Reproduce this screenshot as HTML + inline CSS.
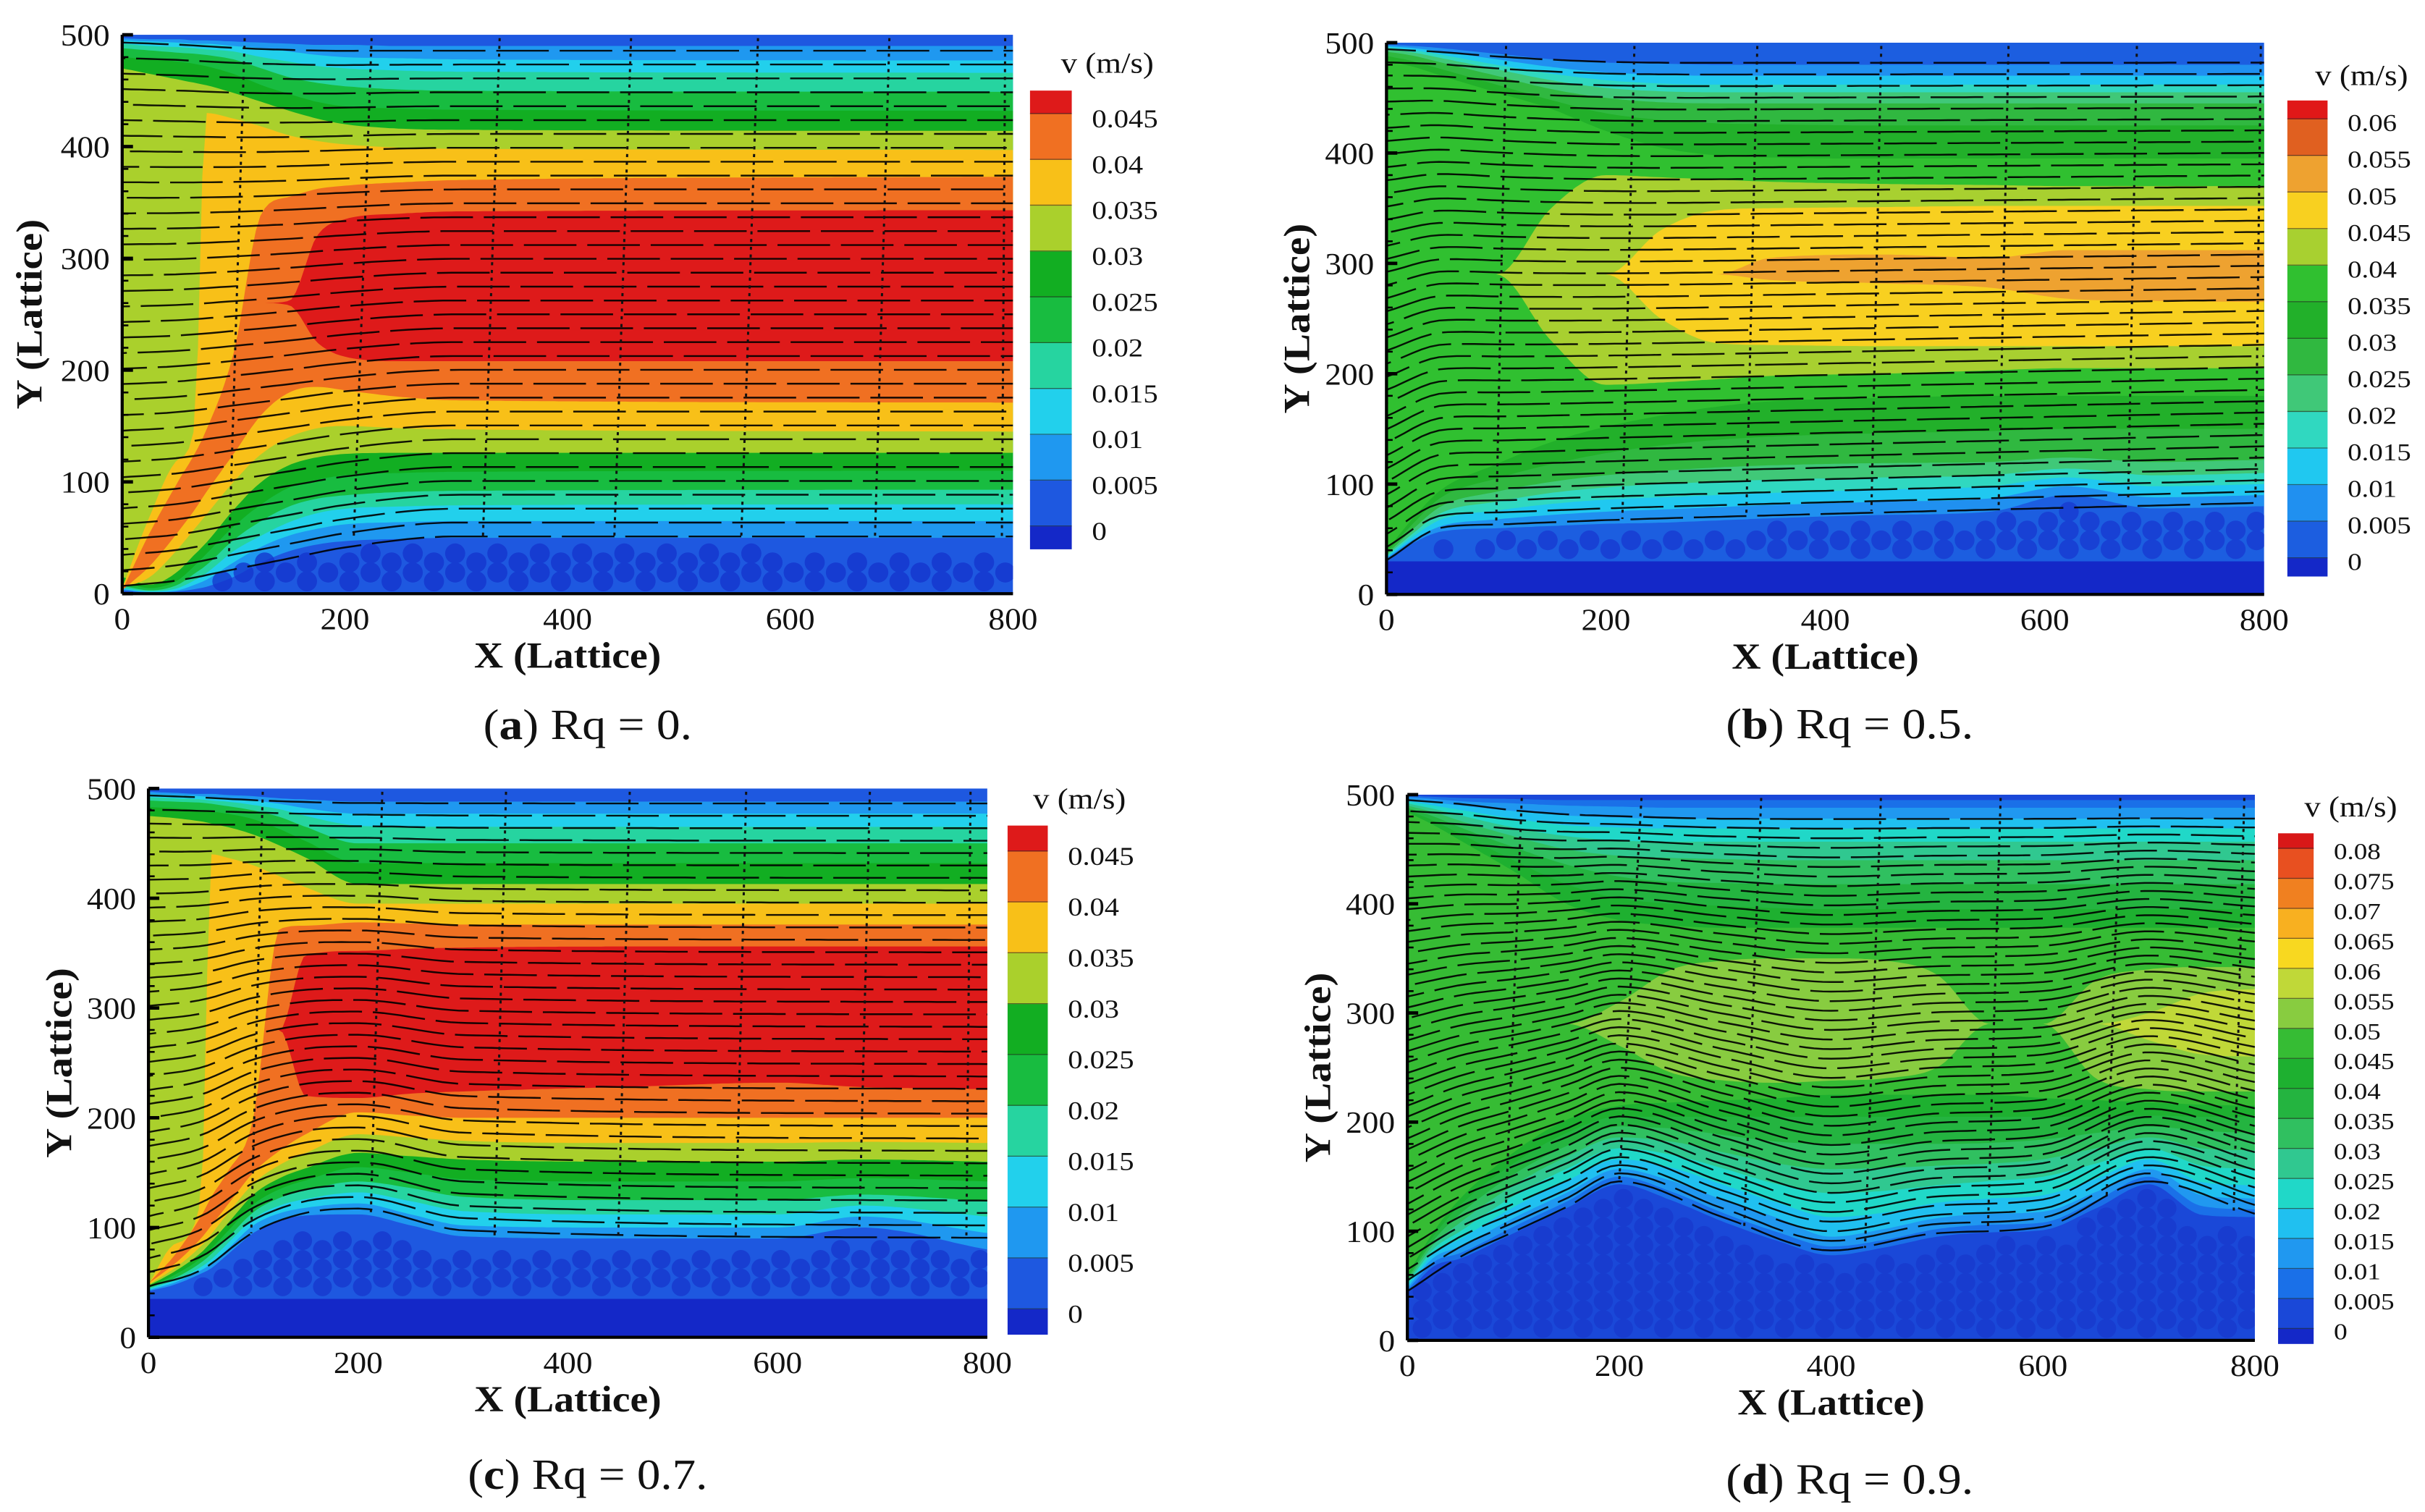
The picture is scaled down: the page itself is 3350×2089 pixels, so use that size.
<!DOCTYPE html>
<html><head><meta charset="utf-8">
<style>
html,body{margin:0;padding:0;background:#fff;}
svg{display:block;font-family:"Liberation Serif","DejaVu Serif",serif;}
text{font-family:"Liberation Serif","DejaVu Serif",serif;fill:#111;}
</style></head>
<body>
<svg id="fig" xmlns="http://www.w3.org/2000/svg" width="3350" height="2089" viewBox="0 0 1568 978" preserveAspectRatio="none" font-family="'Liberation Serif', 'DejaVu Serif', serif"></svg>
<script>
// ---------- shared axis data ----------
const yTickVals = [0,100,200,300,400,500];
const yTickLabels = ['0','100','200','300','400','500'];
const xTickVals = [0,200,400,600,800];
const xTickLabels = ['0','200','400','600','800'];
const FONT = "'Liberation Serif', 'DejaVu Serif', serif";

// ---------- colour maps ----------
const cmapA = ['#1428c8','#1e58e0','#1f98f0','#22d0ec','#26d4a0','#18bc40','#12ae22','#aad02c','#f8c018','#f07022','#de1a1a'];
const cmapB = ['#1428c8','#1c5ee0','#2090f0','#20c8f0','#30d8c0','#40c878','#30b840','#22b02a','#30c030','#a8d030','#f8d020','#eea230','#e06020','#e01818'];
const cmapD = ['#1428c8','#1a48d8','#1a70e8','#2098f0','#20c0f0','#20d8c8','#30c890','#30c060','#24b440','#1eb030','#36bc34','#88cc40','#c0d838','#f8d820','#f8b020','#f08020','#e85020','#d81818'];

const cbLabelsA = ['0','0.005','0.01','0.015','0.02','0.025','0.03','0.035','0.04','0.045'];
const cbLabelsB = ['0','0.005','0.01','0.015','0.02','0.025','0.03','0.035','0.04','0.045','0.05','0.055','0.06'];
const cbLabelsC = ['0','0.005','0.01','0.015','0.02','0.025','0.03','0.035','0.04','0.045'];
const cbLabelsD = ['0','0.005','0.01','0.015','0.02','0.025','0.03','0.035','0.04','0.045','0.05','0.055','0.06','0.065','0.07','0.075','0.08'];

// ---------- panel (a) Rq = 0 ----------
const xsA = [0,25,50,65,75,100,125,150,175,200,250,300,800];
const bandLoA = [
 [3,1,2,4,6,15,28,38,44,47,49,50,50],
 [4,1.5,3,8,12,28,42,52,58,62,64,65,65],
 [5,2,5,12,18,38,52,64,72,76,78,79,80],
 [7,3,8,18,25,48,65,78,85,88,91,92,93],
 [10,5,12,25,35,60,80,95,102,106,108,109,110],
 [15,8,20,35,45,75,100,115,122,125,126,126,126],
 [5,15,40,58,70,100,125,140,148,150,148,147,145],
 [3,25,55,75,90,125,160,180,185,182,176,173,171],
 [260,260,260,260,260,260,260,258,225,212,208,208,208]
];
const bandHiA = [
 [497,496,496,495,495,494,493,492,491,491,490,490,490],
 [495,494,493,492,492,490,488,485,482,480,479,478,477],
 [492,490,489,488,487,485,480,476,472,470,468,467,466],
 [488,486,484,483,482,478,470,462,457,454,451,450,449],
 [480,478,476,474,472,465,455,447,440,436,434,433,432],
 [470,465,460,457,455,448,440,432,425,420,416,415,414],
 [5,70,120,150,430,425,418,410,405,402,399,398,397],
 [3,55,100,125,145,215,340,355,362,365,368,370,373],
 [260,260,260,260,260,260,260,262,320,335,340,342,343]
];
const bedXsA = [0,50,100,150,200,400,600,700,800];
const bedA = [4,16,33,42,45,45,45,42,42];
const flowXsA = [0,50,100,150,200,300,800];
const flowFloorA = [0,5,15,25,35,45,45];
const flowCeilA = [500,498,495,493,492,492,492];
const colTopA = [110,224,339,457,571,689,793];
const colBotA = [96,208,324,442,556,676,790];

// ---------- panel (b) Rq = 0.5 ----------
const xsB = [0,25,50,100,150,200,250,300,350,450,550,620,700,800];
const bandLoB = [
 [32,47,57,60,62,64,65,67,69,72,75,90,78,80],
 [33,50,62,68,72,75,77,79,81,84,87,98,88,90],
 [34,53,68,76,82,86,88,90,92,95,98,106,98,100],
 [35,56,74,84,92,97,100,102,104,106,108,114,108,110],
 [36,60,80,93,102,108,112,115,117,119,120,124,120,122],
 [38,65,88,105,118,128,135,140,143,146,148,150,150,150],
 [40,70,95,118,138,152,162,170,175,178,180,180,180,180],
 [290,290,290,290,230,190,192,195,198,200,203,205,205,205],
 [290,290,290,290,290,290,250,228,226,225,225,225,225,225],
 [290,290,290,290,290,290,290,290,285,282,278,268,266,265]
];
const bandHiB = [
 [498,497,495,490,485,482,481,480,480,480,480,480,480,480],
 [497,495,492,485,478,473,471,470,470,470,470,470,470,470],
 [496,493,489,480,472,466,463,462,462,462,462,462,462,462],
 [494,491,486,476,466,459,456,455,455,455,455,455,455,455],
 [492,488,482,470,458,450,446,445,445,445,445,445,445,445],
 [488,483,476,462,448,436,430,427,426,425,425,425,425,425],
 [484,478,470,455,440,420,405,398,396,395,395,395,395,395],
 [290,290,290,290,350,380,378,376,374,372,371,370,370,370],
 [290,290,290,290,290,290,330,348,350,351,352,352,352,352],
 [290,290,290,290,290,290,290,290,305,308,305,312,312,312]
];
const bedXsB = xsB;
const bedB = [30,45,55,58,60,62,63,65,67,70,73,88,76,78];
const flowXsB = [0,50,100,150,200,300,800];
const flowFloorB = [25,55,58,60,62,65,78];
const flowCeilB = [500,497,493,490,488,487,487];
const colTopB = [109,226,338,451,567,684,797];
const colBotB = [100,215,328,442,558,676,792];

// ---------- panel (c) Rq = 0.7 ----------
const xsC = [0,25,50,60,75,100,125,150,200,250,300,450,600,680,800];
const bandLoC = [
 [42,48,58,63,75,95,106,111,112,102,92,90,90,100,80],
 [43,50,61,67,80,102,113,118,122,112,102,100,100,110,95],
 [44,52,64,71,85,108,120,126,132,124,115,112,112,120,110],
 [45,54,68,76,90,114,127,134,142,136,128,125,125,130,124],
 [46,57,72,81,96,121,135,143,155,150,144,142,142,145,142],
 [47,60,77,87,103,130,145,154,168,165,162,160,160,162,160],
 [48,63,83,94,112,140,157,168,185,182,179,177,177,178,177],
 [49,67,90,102,120,150,170,185,205,202,200,200,200,200,200],
 [280,280,280,280,280,280,280,220,218,222,224,228,232,228,226]
];
const bandHiC = [
 [497,496,495,495,494,493,491,490,488,488,488,488,488,488,488],
 [495,494,493,492,491,489,486,482,477,477,477,477,477,477,477],
 [492,491,490,489,488,485,481,475,466,465,465,465,465,465,465],
 [489,488,487,486,484,480,474,465,450,450,450,450,450,450,450],
 [483,482,480,479,477,472,463,452,432,432,432,432,432,432,432],
 [475,473,470,468,465,458,448,437,413,413,413,413,413,413,413],
 [48,85,125,440,437,430,420,410,395,395,395,395,395,395,395],
 [49,75,110,128,150,200,372,375,378,377,376,376,376,376,376],
 [280,280,280,280,280,280,280,348,352,354,355,356,356,356,356]
];
const bedXsC = xsC;
const bedC = [40,45,55,60,70,90,100,105,105,95,85,85,85,95,80];
const flowXsC = [0,50,100,150,200,300,800];
const flowFloorC = [40,55,90,108,112,92,85];
const flowCeilC = [500,498,495,493,492,492,492];
const colTopC = [109,223,341,459,570,688,784];
const colBotC = [98,212,330,448,560,678,780];

// ---------- panel (d) Rq = 0.9 ----------
const xsD = [0,25,50,100,150,200,250,300,350,400,450,500,550,600,650,700,750,800];
const bandLoD = [
 [43,68,75,98,121,143,128,108,91,78,85,95,99,101,121,143,115,113],
 [46,72,80,104,127,150,136,116,99,86,92,102,106,108,128,150,123,120],
 [48,76,86,112,135,157,146,128,112,95,102,112,116,118,136,157,133,130],
 [50,80,93,122,146,166,158,142,126,113,117,126,130,133,148,166,145,142],
 [52,84,100,132,157,176,170,157,143,135,137,142,146,150,162,176,160,157],
 [54,88,108,142,168,186,182,172,162,157,158,160,162,166,176,186,176,174],
 [56,92,116,152,178,196,194,188,182,180,180,180,181,184,190,196,192,190],
 [58,96,124,162,190,205,205,205,205,205,205,205,205,205,205,206,205,205],
 [60,100,130,172,202,215,218,220,222,225,225,225,225,222,220,218,216,215],
 [290,290,290,290,290,270,245,238,236,238,240,250,290,290,240,230,228,228],
 [290,290,290,290,290,290,290,290,290,290,290,290,290,290,290,275,262,260]
];
const bandHiD = [
 [499,498,497,496,495,495,495,495,495,495,495,495,495,495,495,495,495,495],
 [498,496,494,492,490,489,488,488,488,488,488,488,488,488,488,488,488,488],
 [496,493,490,485,481,479,478,478,478,478,478,478,478,478,478,478,478,478],
 [494,490,486,478,472,470,469,469,469,469,469,469,469,469,469,469,469,469],
 [492,487,481,470,462,458,457,457,457,457,457,457,457,457,457,457,457,457],
 [490,484,476,462,450,444,442,441,440,440,440,440,440,440,440,440,440,440],
 [488,480,470,452,436,425,420,419,418,418,418,418,418,418,418,418,418,418],
 [486,476,464,440,418,405,400,398,396,395,395,395,395,395,395,395,395,395],
 [484,472,458,430,400,385,380,378,378,378,378,378,378,378,378,378,378,378],
 [290,290,290,290,290,310,340,348,350,350,348,335,290,290,330,340,342,342],
 [290,290,290,290,290,290,290,290,290,290,290,290,290,290,290,300,318,322]
];
const bedXsD = xsD;
const bedD = [40,65,72,95,118,140,125,105,88,75,82,92,96,98,118,140,112,110];
const flowXsD = [0,50,100,150,200,300,400,500,600,700,800];
const flowFloorD = [40,72,95,118,142,108,78,94,100,142,112];
const flowCeilD = [500,496,490,486,484,482,482,482,482,482,482];
const colTopD = [108,221,334,447,560,673,790];
const colBotD = [92,200,318,432,548,660,780];

// ---------- helpers ----------
const NS = 'http://www.w3.org/2000/svg';
const svg = document.getElementById('fig');
function mk(tag, parent){ const e = document.createElementNS(NS, tag); parent.appendChild(e); return e; }
function mono(xs, ys){
  const n = xs.length, d = [], m = [];
  for(let i=0;i<n-1;i++) d[i]=(ys[i+1]-ys[i])/(xs[i+1]-xs[i]);
  m[0]=d[0]; m[n-1]=d[n-2];
  for(let i=1;i<n-1;i++) m[i] = (d[i-1]*d[i]<=0)?0:(d[i-1]+d[i])/2;
  for(let i=0;i<n-1;i++){
    if(d[i]===0){m[i]=0;m[i+1]=0;continue;}
    const a=m[i]/d[i], b=m[i+1]/d[i], s=a*a+b*b;
    if(s>9){const t=3/Math.sqrt(s); m[i]=t*a*d[i]; m[i+1]=t*b*d[i];}
  }
  return function(x){
    if(x<=xs[0]) return ys[0];
    if(x>=xs[n-1]) return ys[n-1];
    let i=0; while(x>xs[i+1]) i++;
    const h=xs[i+1]-xs[i], t=(x-xs[i])/h, t2=t*t, t3=t2*t;
    return (2*t3-3*t2+1)*ys[i]+(t3-2*t2+t)*h*m[i]+(-2*t3+3*t2)*ys[i+1]+(t3-t2)*h*m[i+1];
  };
}
function txt(parent, s, x, y, size, anchor, len, bold){
  const t = mk('text', parent);
  t.setAttribute('x', x); t.setAttribute('y', y);
  t.setAttribute('font-size', size);
  t.setAttribute('font-family', FONT);
  t.setAttribute('text-anchor', anchor);
  if(len){ t.setAttribute('textLength', len); t.setAttribute('lengthAdjust','spacingAndGlyphs'); }
  if(bold) t.setAttribute('font-weight','bold');
  t.textContent = s;
  return t;
}
function strW(s, dw){ let w=0; for(const c of s) w += (c==='.')?dw*0.45:dw; return w; }

function drawPanel(id, L, D){
  const g = mk('g', svg);
  
  
  const X = v => L.x0 + v/800*(L.x1-L.x0);
  const Y = v => L.yB - v/500*(L.yB-L.yT);
  const defs = mk('defs', g);
  const cp = mk('clipPath', defs); cp.setAttribute('id','clip-'+id);
  const cr = mk('rect', cp);
  cr.setAttribute('x',L.x0); cr.setAttribute('y',L.yT); cr.setAttribute('width',L.x1-L.x0); cr.setAttribute('height',L.yB-L.yT);
  const plot = mk('g', g);
  plot.setAttribute('clip-path','url(#clip-'+id+')');
  
  
  const bg = mk('rect', plot);
  
  
  bg.setAttribute('x',L.x0); bg.setAttribute('y',L.yT); bg.setAttribute('width',L.x1-L.x0); bg.setAttribute('height',L.yB-L.yT);
  bg.setAttribute('fill', D.cmap[1]);
  D.lo.forEach((loArr, k) => {
    const fl = mono(D.xs, loArr), fh = mono(D.xs, D.hi[k]);
    let pts = [];
    for(let x=0;x<=800;x+=4) pts.push(X(x).toFixed(1)+','+Y(fl(x)).toFixed(1));
    for(let x=800;x>=0;x-=4) pts.push(X(x).toFixed(1)+','+Y(fh(x)).toFixed(1));
    const p = mk('polygon', plot);
    
    
    p.setAttribute('points', pts.join(' '));
    p.setAttribute('fill', D.cmap[k+2]);
  });
  const fb = mono(D.bedXs, D.bed);
  if(D.baseTop>0){
    const r = mk('rect', plot);
    
    
    r.setAttribute('x',L.x0); r.setAttribute('y',Y(D.baseTop)); r.setAttribute('width',L.x1-L.x0); r.setAttribute('height',L.yB-Y(D.baseTop));
    r.setAttribute('fill', D.cmap[0]);
  }
  const pg = mk('g', plot);
  
  
  pg.setAttribute('fill', D.partColor); pg.setAttribute('opacity','0.75');
  const rr = (L.x1-L.x0)/800*9;
  let col=0;
  for(let x=14;x<800;x+=19,col++){
    const top = fb(x);
    for(let row=0;;row++){
      const y = D.baseTop + 11 + row*17 + (col%2)*8;
      if(y > top-9) break;
      const c = mk('circle', pg);
      c.setAttribute('cx', X(x).toFixed(1)); c.setAttribute('cy', Y(y).toFixed(1)); c.setAttribute('r', rr.toFixed(1));
    }
  }
  const ff = mono(D.fxs, D.floor), fc = mono(D.fxs, D.ceil);
  const sg = mk('g', plot);
  
  
  sg.setAttribute('fill','none'); sg.setAttribute('stroke','#000'); sg.setAttribute('stroke-width','1.15');
  sg.setAttribute('stroke-dasharray','34 7'); sg.setAttribute('opacity','0.9');
  for(let i=0;i<D.nStream;i++){
    const f=(i+0.5)/D.nStream;
    let dd='';
    for(let x=0;x<=800;x+=8){
      const y = ff(x)+f*(fc(x)-ff(x));
      dd += (x===0?'M':'L')+X(x).toFixed(1)+','+Y(y).toFixed(1);
    }
    const p = mk('path', sg);
    
    
    p.setAttribute('d', dd);
    p.setAttribute('stroke-dashoffset', (i*13)%41);
  }
  const vg = mk('g', plot);
  
  
  vg.setAttribute('stroke','#111'); vg.setAttribute('stroke-width','1.4'); vg.setAttribute('stroke-dasharray','2 3'); vg.setAttribute('fill','none');
  D.colTop.forEach((xt,i)=>{
    const xb = D.colBot[i];
    const yb = fb(xb)+6;
    const ln = mk('line', vg);
    
    
    ln.setAttribute('x1', X(xt)); ln.setAttribute('y1', Y(497));
    ln.setAttribute('x2', X(xb)); ln.setAttribute('y2', Y(yb));
  });
  const ax = mk('g', g);
  
  
  const la = mk('line', ax);
  la.setAttribute('x1',L.x0); la.setAttribute('y1',L.yT); la.setAttribute('x2',L.x0); la.setAttribute('y2',L.yB);
  la.setAttribute('stroke','#000'); la.setAttribute('stroke-width','2');
  const ba = mk('line', ax);
  ba.setAttribute('x1',L.x0); ba.setAttribute('y1',L.yB); ba.setAttribute('x2',L.x1); ba.setAttribute('y2',L.yB);
  ba.setAttribute('stroke','#000'); ba.setAttribute('stroke-width','2');
  for(let v=0; v<=500; v+=20){
    const t = mk('line', ax);
    const major = v%100===0;
    t.setAttribute('x1',L.x0); t.setAttribute('x2',L.x0+(major?7:4));
    t.setAttribute('y1',Y(v)); t.setAttribute('y2',Y(v));
    t.setAttribute('stroke','#000'); t.setAttribute('stroke-width', major?2.2:1.2);
  }
  yTickVals.forEach((v,i)=>{
    const t = txt(ax, yTickLabels[i], L.x0-8, Y(v)+7, 20, 'end', strW(yTickLabels[i],10.6));
    
    
  });
  xTickVals.forEach((v,i)=>{
    const t = txt(ax, xTickLabels[i], X(v), L.yB+23, 20, 'middle', strW(xTickLabels[i],10.6));
    
    
  });
  const xt = txt(ax, 'X (Lattice)', (L.x0+L.x1)/2, L.yB+48, 24, 'middle', 121, true);
  
  
  const yc = (L.yT+L.yB)/2;
  const yt = txt(ax, 'Y (Lattice)', L.x0-L.ytOff, yc, 24, 'middle', 123, true);
  yt.setAttribute('transform','rotate(-90 '+(L.x0-L.ytOff)+' '+yc+')');
  
  
  const cb = mk('g', g);
  
  
  const N = D.cbLabels.length, ch = (L.cbB-L.cbT)/N;
  for(let j=0;j<=N;j++){
    let y0, h;
    if(j===0){ y0 = L.cbB-ch/2; h = ch/2; }
    else if(j===N){ y0 = L.cbT; h = ch/2; }
    else { y0 = L.cbB-ch/2-j*ch; h = ch; }
    const r = mk('rect', cb);
    
    
    r.setAttribute('x',L.cbX); r.setAttribute('y',y0.toFixed(2)); r.setAttribute('width',L.cbW); r.setAttribute('height',(h+0.3).toFixed(2));
    r.setAttribute('fill', D.cmap[j]);
  }
  D.cbLabels.forEach((s,i)=>{
    const yy = L.cbB-ch/2-i*ch;
    const sep = mk('line', cb);
    sep.setAttribute('x1',L.cbX); sep.setAttribute('x2',L.cbX+L.cbW); sep.setAttribute('y1',yy); sep.setAttribute('y2',yy);
    sep.setAttribute('stroke','#222'); sep.setAttribute('stroke-width','0.6'); sep.setAttribute('opacity','0.6');
    const t = txt(cb, s, L.cbX+L.cbW+13, yy+L.cbLblDy, L.cbFs, 'start', strW(s, L.cbDw));
    
    
  });
  const ct = txt(cb, 'v (m/s)', L.cbTitleX, L.cbTitleY, 19, 'middle', 60);
  
  
  const cap = mk('text', g);
  
  
  cap.setAttribute('x', L.capX); cap.setAttribute('y', L.capY);
  cap.setAttribute('font-size', 28); cap.setAttribute('text-anchor','middle');
  cap.setAttribute('font-family', FONT);
  cap.setAttribute('textLength', L.capW); cap.setAttribute('lengthAdjust','spacingAndGlyphs');
  const t1 = mk('tspan', cap); t1.textContent='(';
  const t2 = mk('tspan', cap); t2.setAttribute('font-weight','bold'); t2.textContent=id;
  const t3 = mk('tspan', cap); t3.textContent=') Rq = '+L.rq+'.';
}

drawPanel('a',
 {x0:79,x1:655,yT:22.5,yB:384,ytOff:52,cbX:666,cbW:27,cbT:58.6,cbB:355,cbFs:17,cbDw:9.6,cbLblDy:9,cbTitleX:716,cbTitleY:47,capX:380,capY:478,capW:135,rq:'0'},
 {cmap:cmapA,xs:xsA,lo:bandLoA,hi:bandHiA,bedXs:bedXsA,bed:bedA,baseTop:0,partColor:'#1433cc',fxs:flowXsA,floor:flowFloorA,ceil:flowCeilA,nStream:36,colTop:colTopA,colBot:colBotA,cbLabels:cbLabelsA});
drawPanel('b',
 {x0:896.5,x1:1464,yT:27.6,yB:384.5,ytOff:50,cbX:1479,cbW:26,cbT:65,cbB:372.6,cbFs:16,cbDw:9.2,cbLblDy:8,cbTitleX:1527,cbTitleY:55,capX:1196,capY:477.5,capW:160,rq:'0.5'},
 {cmap:cmapB,xs:xsB,lo:bandLoB,hi:bandHiB,bedXs:bedXsB,bed:bedB,baseTop:30,partColor:'#1738d0',fxs:flowXsB,floor:flowFloorB,ceil:flowCeilB,nStream:40,colTop:colTopB,colBot:colBotB,cbLabels:cbLabelsB});
drawPanel('c',
 {x0:96,x1:638.4,yT:510,yB:865,ytOff:50,cbX:651.5,cbW:26,cbT:534,cbB:863,cbFs:17,cbDw:9.6,cbLblDy:9,cbTitleX:698,cbTitleY:523,capX:380,capY:963,capW:155,rq:'0.7'},
 {cmap:cmapA,xs:xsC,lo:bandLoC,hi:bandHiC,bedXs:bedXsC,bed:bedC,baseTop:35,partColor:'#1636cc',fxs:flowXsC,floor:flowFloorC,ceil:flowCeilC,nStream:36,colTop:colTopC,colBot:colBotC,cbLabels:cbLabelsC});
drawPanel('d',
 {x0:910,x1:1458,yT:514,yB:867,ytOff:50,cbX:1473,cbW:23,cbT:539,cbB:869,cbFs:15,cbDw:8.8,cbLblDy:7,cbTitleX:1520,cbTitleY:528,capX:1196,capY:966,capW:160,rq:'0.9'},
 {cmap:cmapD,xs:xsD,lo:bandLoD,hi:bandHiD,bedXs:bedXsD,bed:bedD,baseTop:0,partColor:'#1838cc',fxs:flowXsD,floor:flowFloorD,ceil:flowCeilD,nStream:46,colTop:colTopD,colBot:colBotD,cbLabels:cbLabelsD});
</script>
</body></html>
